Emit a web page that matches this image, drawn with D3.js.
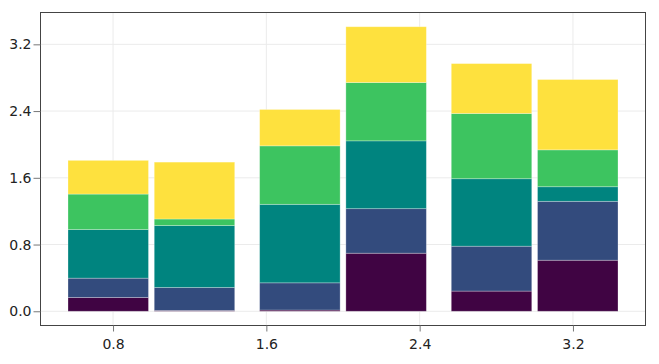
<!DOCTYPE html>
<html>
<head>
<meta charset="utf-8">
<script src="https://cdn.jsdelivr.net/npm/d3@7"></script>
<style>
  body { margin: 0; background: #fff; }
  text { font-family: "DejaVu Sans", sans-serif; }
</style>
</head>
<body>
<div id="chart"></div>
<script>
// groups sit at x = 1, 2, 3, each with two dodged bars
const groups = [1, 2, 3];
const dodge = [0, 1];
// stack layers, bottom to top, one value per bar (group1 a/b, group2 a/b, group3 a/b)
const layer1 = [0.165, 0.010, 0.015, 0.696, 0.242, 0.612];
const layer2 = [0.232, 0.275, 0.326, 0.534, 0.538, 0.706];
const layer3 = [0.582, 0.742, 0.941, 0.813, 0.809, 0.175];
const layer4 = [0.426, 0.079, 0.701, 0.699, 0.782, 0.442];
const layer5 = [0.404, 0.682, 0.436, 0.669, 0.598, 0.843];
const colors = ["#400443", "#334b7d", "#00847f", "#3dc460", "#fee13e"];
const xTicks = [0.8, 1.6, 2.4, 3.2];
const yTicks = [0.0, 0.8, 1.6, 2.4, 3.2];

const layers = [layer1, layer2, layer3, layer4, layer5];
const bars = [];
groups.forEach((g, gi) => dodge.forEach((d, di) => {
  const i = gi * 2 + di;
  const row = { g: g, d: d };
  layers.forEach((l, k) => row["s" + k] = l[i]);
  bars.push(row);
}));
const keys = layers.map((l, k) => "s" + k);
const stacked = d3.stack().keys(keys)(bars);

const width = 659, height = 364;
const margin = { top: 12.5, right: 13.5, bottom: 38.5, left: 40.5 };
const barW = 0.42, dodgeGap = 0.03;
const off = (barW + dodgeGap) / 2;
const xCenter = b => b.g + (b.d === 0 ? -off : off);

const xMin = groups[0] - off - barW / 2, xMax = groups[groups.length - 1] + off + barW / 2;
const xPad = (xMax - xMin) * 0.05;
const yMaxData = d3.max(stacked[stacked.length - 1], d => d[1]);
const yPad = yMaxData * 0.05;

const x = d3.scaleLinear().domain([xMin - xPad, xMax + xPad]).range([margin.left, width - margin.right]);
const y = d3.scaleLinear().domain([-yPad, yMaxData + yPad]).range([height - margin.bottom, margin.top]);

const svg = d3.select("#chart").append("svg")
  .attr("width", width).attr("height", height);

// grid
svg.append("g").selectAll("line").data(xTicks).enter().append("line")
  .attr("x1", d => x(d)).attr("x2", d => x(d))
  .attr("y1", margin.top).attr("y2", height - margin.bottom)
  .attr("stroke", "#ebebeb").attr("stroke-width", 1);
svg.append("g").selectAll("line").data(yTicks).enter().append("line")
  .attr("x1", margin.left).attr("x2", width - margin.right)
  .attr("y1", d => y(d)).attr("y2", d => y(d))
  .attr("stroke", "#ebebeb").attr("stroke-width", 1);

// bars
stacked.forEach((layer, k) => {
  svg.append("g").selectAll("rect").data(layer).enter().append("rect")
    .attr("x", d => x(xCenter(d.data) - barW / 2))
    .attr("width", x(barW) - x(0))
    .attr("y", d => y(d[1]))
    .attr("height", d => y(d[0]) - y(d[1]))
    .attr("fill", colors[k])
    .attr("stroke", "rgba(255,255,255,0.35)")
    .attr("stroke-width", 0.8);
});

// frame
svg.append("rect")
  .attr("x", margin.left).attr("y", margin.top)
  .attr("width", width - margin.left - margin.right)
  .attr("height", height - margin.top - margin.bottom)
  .attr("fill", "none").attr("stroke", "#444").attr("stroke-width", 1);

// axes
const xAxis = svg.append("g")
  .attr("transform", `translate(0,${height - margin.bottom})`)
  .call(d3.axisBottom(x).tickValues(xTicks).tickFormat(d3.format(".1f")).tickSize(6).tickPadding(8));
const yAxis = svg.append("g")
  .attr("transform", `translate(${margin.left},0)`)
  .call(d3.axisLeft(y).tickValues(yTicks).tickFormat(d3.format(".1f")).tickSize(7).tickPadding(2));
[xAxis, yAxis].forEach(a => {
  a.select(".domain").remove();
  a.selectAll(".tick line").attr("stroke", "#777");
  a.selectAll(".tick text").attr("fill", "#222").style("font-size", "14px")
    .style("font-family", "DejaVu Sans, sans-serif");
});
</script>
</body>
</html>
